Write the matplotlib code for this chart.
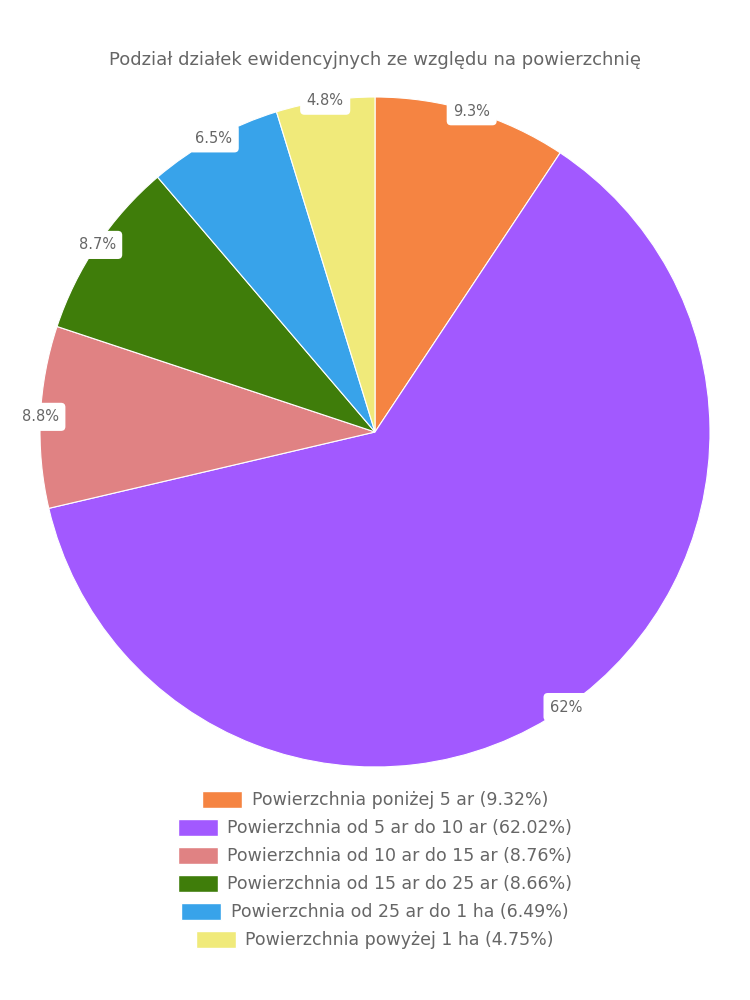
import numpy as np
import matplotlib
matplotlib.use("Agg")
import matplotlib.pyplot as plt
from matplotlib.patches import Patch

plt.rcParams["font.family"] = ["DejaVu Sans"]

TITLE = "Podział działek ewidencyjnych ze względu na powierzchnię"
CATEGORIES = [
    "Powierzchnia poniżej 5 ar",
    "Powierzchnia od 5 ar do 10 ar",
    "Powierzchnia od 10 ar do 15 ar",
    "Powierzchnia od 15 ar do 25 ar",
    "Powierzchnia od 25 ar do 1 ha",
    "Powierzchnia powyżej 1 ha",
]
SHARES = [9.32, 62.02, 8.76, 8.66, 6.49, 4.75]
SLICE_LABELS = ["9.3%", "62%", "8.8%", "8.7%", "6.5%", "4.8%"]
COLORS = ["#f58442", "#a259ff", "#e08283", "#3f7d0a", "#38a3ea", "#f0ea7a"]

TEXT_GREY = "#666666"

fig = plt.figure(figsize=(7.5, 10), dpi=100)
fig.text(0.5, 0.94, TITLE, ha="center", va="center", fontsize=13, color=TEXT_GREY)

ax = fig.add_axes([40 / 750, 1 - 767 / 1000, 670 / 750, 670 / 1000])
wedges, _ = ax.pie(SHARES, colors=COLORS, startangle=90, counterclock=False,
                   radius=1.0, wedgeprops=dict(edgecolor="white", linewidth=0.8))
ax.set_xlim(-1, 1)
ax.set_ylim(-1, 1)
ax.set_aspect("equal")
ax.axis("off")

# slice labels sit on the rim at the middle angle
for w, lab in zip(wedges, SLICE_LABELS):
    mid = np.deg2rad((w.theta1 + w.theta2) / 2)
    ax.text(np.cos(mid), np.sin(mid), lab, ha="center", va="center",
            fontsize=10.5, color=TEXT_GREY, clip_on=False,
            bbox=dict(boxstyle="round,pad=0.45,rounding_size=0.3",
                      fc="white", ec="none"))

# one centred legend row per category
row_y = [800, 828, 856, 884, 912, 940]
for cat, share, col, y in zip(CATEGORIES, SHARES, COLORS, row_y):
    handle = Patch(facecolor=col, edgecolor="white")
    fig.legend([handle], [f"{cat} ({share:.2f}%)"], loc="center",
               bbox_to_anchor=(0.5, 1 - y / 1000), frameon=False,
               fontsize=12.5, labelcolor=TEXT_GREY, handlelength=2.3,
               handleheight=1.1, handletextpad=0.55, borderpad=0)

fig.savefig("out.png", dpi=100, facecolor="white")
